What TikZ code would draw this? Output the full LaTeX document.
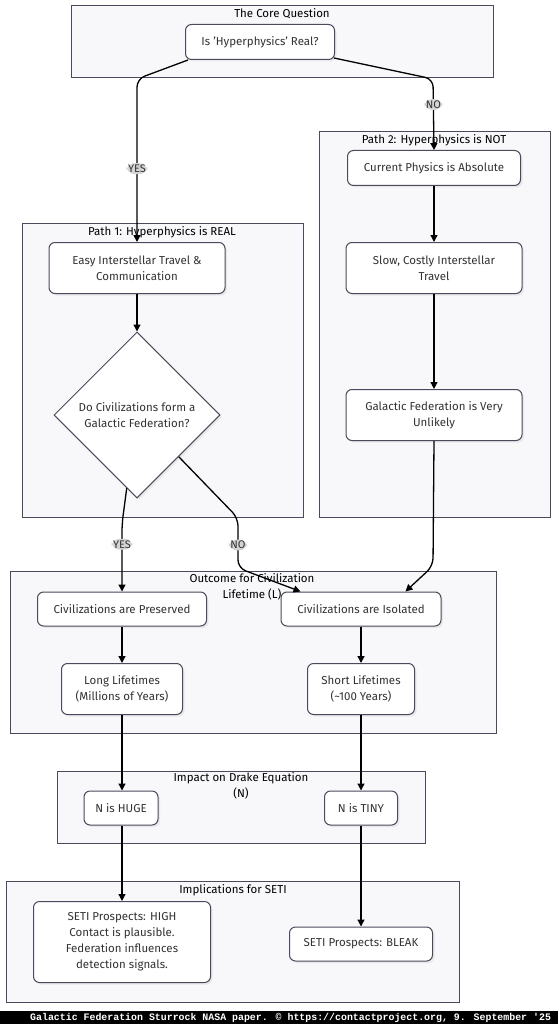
\documentclass[tikz,border=0pt]{standalone}
\usepackage{fontspec}
\setmainfont{Fira Sans}
\newfontfamily\capfont{Liberation Mono}
\usetikzlibrary{arrows.meta,shapes.geometric,shadows}
\definecolor{clfill}{HTML}{F8F8FB}
\definecolor{clline}{HTML}{4A4A5C}
\definecolor{txt}{HTML}{333333}
\definecolor{lblbg}{HTML}{D4D4D4}
\begin{document}
\begin{tikzpicture}[x=1pt,y=-1pt,
  cluster/.style={draw=clline, fill=clfill, line width=1pt},
  ctitle/.style={text=black, font=\fontsize{11.5}{16}\selectfont, align=center, inner sep=0pt},
  box/.style={draw=clline, fill=white, rounded corners=6pt, line width=1pt, align=center,
    text=txt, font=\fontsize{11.5}{16}\selectfont, inner sep=0pt,
    drop shadow={opacity=0.12, shadow xshift=2pt, shadow yshift=-2pt}},
  dia/.style={diamond, draw=clline, fill=white, line width=1pt, align=center, text=txt,
    font=\fontsize{11.5}{16}\selectfont, inner sep=0pt, minimum width=166pt, minimum height=166pt,
    drop shadow={opacity=0.12, shadow xshift=2pt, shadow yshift=-2pt}},
  edge/.style={draw=black, line width=1.3pt, rounded corners=8pt, -{Triangle[length=7pt,width=7pt]}},
  lbl/.style={fill=lblbg, text=txt, font=\fontsize{11}{12}\selectfont, inner sep=1.5pt}
]
\useasboundingbox (0,0) rectangle (558,1024);
\fill[white] (0,0) rectangle (558,1024);

% clusters
\draw[cluster] (71,6) rectangle (493,78);
\draw[cluster] (319,132) rectangle (550,517);
\draw[cluster] (22,224) rectangle (303,517);
\draw[cluster] (10,571) rectangle (496,733);
\draw[cluster] (57,771) rectangle (425,843);
\draw[cluster] (6,881) rectangle (459,1002);

\node[ctitle] (t0) at (282,14) {The Core Question};
\node[ctitle] (t2) at (434,140) {Path 2: Hyperphysics is NOT};
\node[ctitle] (t1) at (162,232) {Path 1: Hyperphysics is REAL};
\node[ctitle, anchor=north] (t3) at (252,573) {Outcome for Civilization\\Lifetime (L)};
\node[ctitle, anchor=north] (t4) at (241,772) {Impact on Drake Equation\\(N)};
\node[ctitle] (t5) at (233,890) {Implications for SETI};

% nodes
\node[box, minimum width=149pt, minimum height=35pt] (q) at (260,42) {Is 'Hyperphysics' Real?};
\node[box, minimum width=173pt, minimum height=35pt] (cur) at (434,168) {Current Physics is Absolute};
\node[box, minimum width=176pt, minimum height=51pt] (slow) at (434,268) {Slow, Costly Interstellar\\Travel};
\node[box, minimum width=176pt, minimum height=51pt] (gf) at (434,415) {Galactic Federation is Very\\Unlikely};
\node[box, minimum width=176pt, minimum height=51pt] (easy) at (137,268) {Easy Interstellar Travel \&\\Communication};
\node[dia] (d) at (137,415) {Do Civilizations form a\\Galactic Federation?};
\node[box, minimum width=169pt, minimum height=34pt] (pres) at (122,609) {Civilizations are Preserved};
\node[box, minimum width=160pt, minimum height=34pt] (iso) at (361,609) {Civilizations are Isolated};
\node[box, minimum width=121pt, minimum height=51pt] (long) at (122,689) {Long Lifetimes\\(Millions of Years)};
\node[box, minimum width=107pt, minimum height=51pt] (short) at (361,689) {Short Lifetimes\\(\textasciitilde100 Years)};
\node[box, minimum width=74pt, minimum height=34pt] (huge) at (121,808) {N is HUGE};
\node[box, minimum width=73pt, minimum height=34pt] (tiny) at (361,808) {N is TINY};
\node[box, minimum width=177pt, minimum height=81pt] (high) at (122,942) {SETI Prospects: HIGH\\Contact is plausible.\\Federation influences\\detection signals.};
\node[box, minimum width=143pt, minimum height=34pt] (bleak) at (361,944) {SETI Prospects: BLEAK};

% edges
\coordinate (c1) at (137,79);
\coordinate (c2) at (433,79);
\draw[edge] ([xshift=3pt]q.south west) -- (c1) -- node[lbl, pos=0.55] {YES} (easy.north);
\draw[edge] ([xshift=-1pt,yshift=2pt]q.south east) -- (c2) -- node[lbl, pos=0.36] {NO} (cur.north);
\draw[edge] (cur.south) -- (slow.north);
\draw[edge] (slow.south) -- (gf.north);
\draw[edge] (easy.south) -- (d.north);
\coordinate (c3) at (433,566);
\draw[edge] (gf.south) -- (c3) -- ([xshift=-36pt]iso.north east);
\coordinate (c4) at (122,524);
\draw[edge] (d.-98) -- (c4) -- node[lbl, pos=0.3] {YES} (pres.north);
\coordinate (c5) at (238,518);
\coordinate (c6) at (238,568);
\draw[edge] (d.-45) -- (c5) -- node[lbl, pos=0.54] {NO} (c6) -- ([xshift=20pt]iso.north west);
\draw[edge] (pres.south) -- (long.north);
\draw[edge] (iso.south) -- (short.north);
\draw[edge] (long.south) -- (huge.north -| long.south);
\draw[edge] (short.south) -- (tiny.north);
\draw[edge] (huge.south -| long.south) -- (high.north);
\draw[edge] (tiny.south) -- (bleak.north);

% caption band
\fill[black] (0,1011) rectangle (558,1024);
\node[anchor=west, text=white, font=\capfont\bfseries\fontsize{9.9}{11}\selectfont, inner sep=0pt] (cap) at (30,1018) {Galactic Federation Sturrock NASA paper. © https://contactproject.org, 9. September '25};
\end{tikzpicture}
\end{document}
